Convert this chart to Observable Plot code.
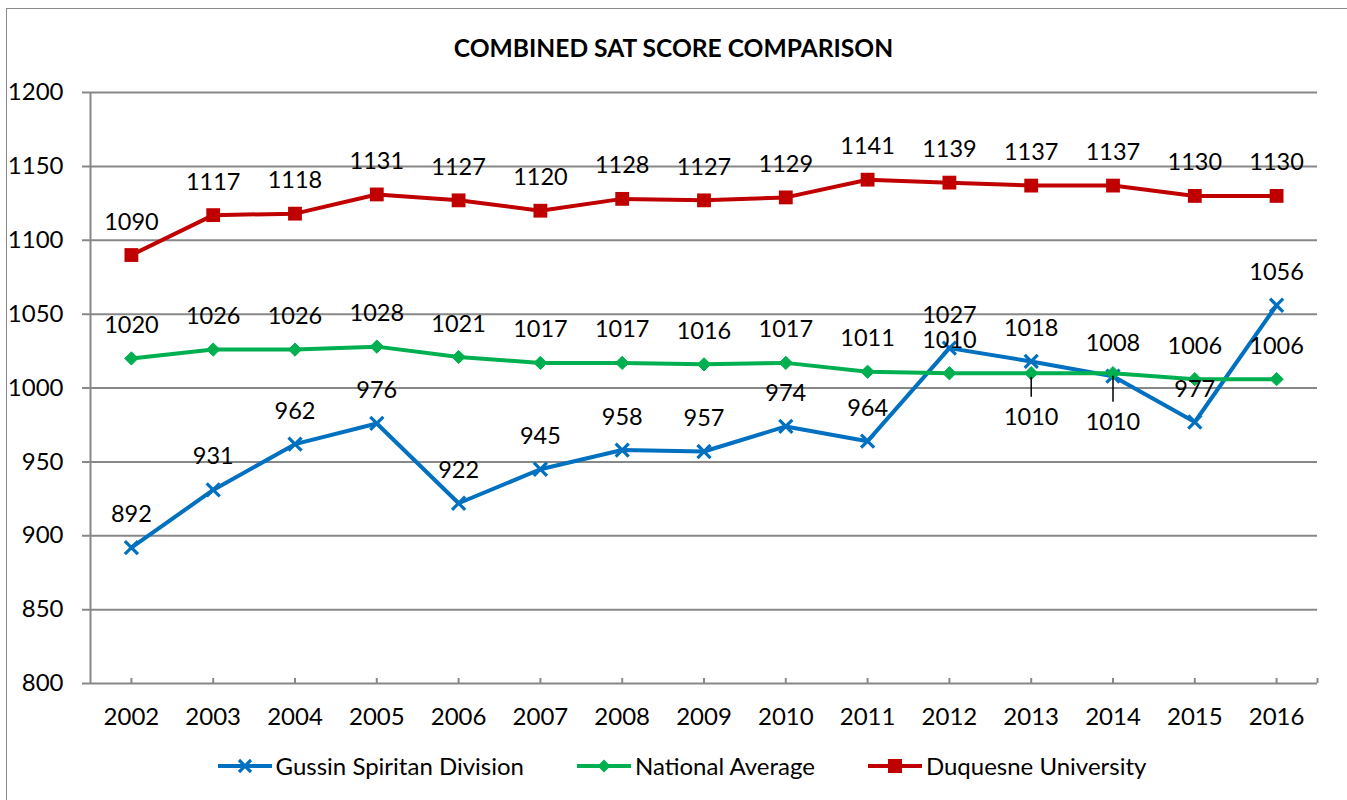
<!DOCTYPE html>
<html>
<head>
<meta charset="utf-8">
<script src="https://cdn.jsdelivr.net/npm/d3@7"></script>
<script src="https://cdn.jsdelivr.net/npm/@observablehq/plot@0.6"></script>
<style>
  html, body { margin: 0; padding: 0; background: #fff; overflow: hidden; }
  body { font-family: Lato, "Open Sans", sans-serif; color: #000; }
  #frame { position: absolute; left: 6px; top: 8px; width: 1400px; height: 900px;
           border: 1.5px solid #8a8a8a; box-sizing: border-box; pointer-events: none; }
  #wrap { position: relative; width: 1347px; }
  #title { height: 37px; padding-top: 33px; line-height: 30px; text-align: center;
           font-weight: bold; font-size: 24.6px; letter-spacing: 0px; }
  #legend { display: flex; justify-content: center; align-items: center; gap: 53px;
            padding-top: 20px; font-size: 24px; line-height: 26px; padding-left: 17px; }
  .item { display: flex; align-items: center; }
  .item svg { display: block; margin-right: 4px; }
</style>
</head>
<body>
<div id="frame"></div>
<div id="wrap">
  <div id="title">COMBINED SAT SCORE COMPARISON</div>
  <div id="chart"></div>
  <div id="legend"></div>
</div>
<script>
// ---- data ----
const years = [2002, 2003, 2004, 2005, 2006, 2007, 2008, 2009, 2010, 2011, 2012, 2013, 2014, 2015, 2016];
const gussin = [892, 931, 962, 976, 922, 945, 958, 957, 974, 964, 1027, 1018, 1008, 977, 1056];
const national = [1020, 1026, 1026, 1028, 1021, 1017, 1017, 1016, 1017, 1011, 1010, 1010, 1010, 1006, 1006];
const duquesne = [1090, 1117, 1118, 1131, 1127, 1120, 1128, 1127, 1129, 1141, 1139, 1137, 1137, 1130, 1130];
const seriesNames = ["Gussin Spiritan Division", "National Average", "Duquesne University"];
const yTicks = [800, 850, 900, 950, 1000, 1050, 1100, 1150, 1200];

// ---- styles ----
const colors = ["#0070C0", "#00B050", "#C00000"];
const grey = "#888888";
const W = 1347, H = 663, mT = 22, mB = 50, mL = 90, mR = 30;
const plotH = H - mT - mB;
const FS = 24;

const rows = s => years.map((year, i) => ({year, value: s[i]}));
const G = rows(gussin), N = rows(national), D = rows(duquesne);
const belowYears = new Set([2013, 2014]);
const Nabove = N.filter(d => !belowYears.has(d.year));
const N13 = N.filter(d => d.year === 2013);
const N14 = N.filter(d => d.year === 2014);

const xDomain = [years[0] - 0.5, years[years.length - 1] + 0.5];
const labelStyle = {x: "year", y: "value", text: d => String(d.value), fill: "black", fontSize: 23.5, fontFamily: "Lato"};

const chart = Plot.plot({
  width: W, height: H,
  marginTop: mT, marginBottom: mB, marginLeft: mL, marginRight: mR,
  style: {fontFamily: "Lato, 'Open Sans', sans-serif", fontSize: FS + "px", color: "black", background: "transparent", overflow: "visible"},
  x: {type: "linear", domain: xDomain, ticks: years, tickFormat: d => String(d), tickSize: 0, tickPadding: 24, label: null},
  y: {domain: [800, 1200], ticks: yTicks, tickFormat: d => String(d), tickSize: 0, tickPadding: 27, label: null},
  marks: [
    Plot.ruleY(yTicks, {stroke: grey, strokeWidth: 2, insetLeft: -8}),
    Plot.ruleX([xDomain[0]], {stroke: grey, strokeWidth: 2}),
    Plot.ruleX([...years, xDomain[1]], {stroke: grey, strokeWidth: 2, insetTop: plotH - 5}),
    // Gussin
    Plot.line(G, {x: "year", y: "value", stroke: colors[0], strokeWidth: 4}),
    Plot.dot(G, {x: "year", y: "value", symbol: "times", r: 6, stroke: colors[0], strokeWidth: 3.2}),
    // National
    Plot.line(N, {x: "year", y: "value", stroke: colors[1], strokeWidth: 4}),
    Plot.dot(N, {x: "year", y: "value", symbol: "diamond2", r: 6, fill: colors[1], stroke: colors[1], strokeWidth: 1}),
    // Duquesne
    Plot.line(D, {x: "year", y: "value", stroke: colors[2], strokeWidth: 4}),
    Plot.dot(D, {x: "year", y: "value", symbol: "square", r: 7.8, fill: colors[2], stroke: "none"}),
    // labels
    Plot.text(G, {...labelStyle, dy: -33}),
    Plot.text(Nabove, {...labelStyle, dy: -33}),
    Plot.text(D, {...labelStyle, dy: -33}),
    Plot.text(N13, {...labelStyle, dy: 44}),
    Plot.text(N14, {...labelStyle, dy: 49}),
    Plot.ruleX(N13, {x: "year", y1: "value", y2: "value", insetTop: 24, insetBottom: -4, stroke: "black", strokeWidth: 1.5}),
    Plot.ruleX(N14, {x: "year", y1: "value", y2: "value", insetTop: 29, insetBottom: -3, stroke: "black", strokeWidth: 1.5})
  ]
});
document.getElementById("chart").appendChild(chart);

// ---- legend ----
const legend = document.getElementById("legend");
const markerSvg = [
  c => `<path d="M21,2 L33,14 M33,2 L21,14" stroke="${c}" stroke-width="3.2" fill="none"/>`,
  c => `<path d="M27,1.5 L33.5,8 L27,14.5 L20.5,8 Z" fill="${c}"/>`,
  c => `<rect x="20" y="1" width="14" height="14" fill="${c}"/>`
];
seriesNames.forEach((name, i) => {
  const item = document.createElement("div");
  item.className = "item";
  item.innerHTML = `<svg width="54" height="16" viewBox="0 0 54 16"><line x1="0" y1="8" x2="54" y2="8" stroke="${colors[i]}" stroke-width="4"/>${markerSvg[i](colors[i])}</svg><span>${name}</span>`;
  legend.appendChild(item);
});
</script>
</body>
</html>
